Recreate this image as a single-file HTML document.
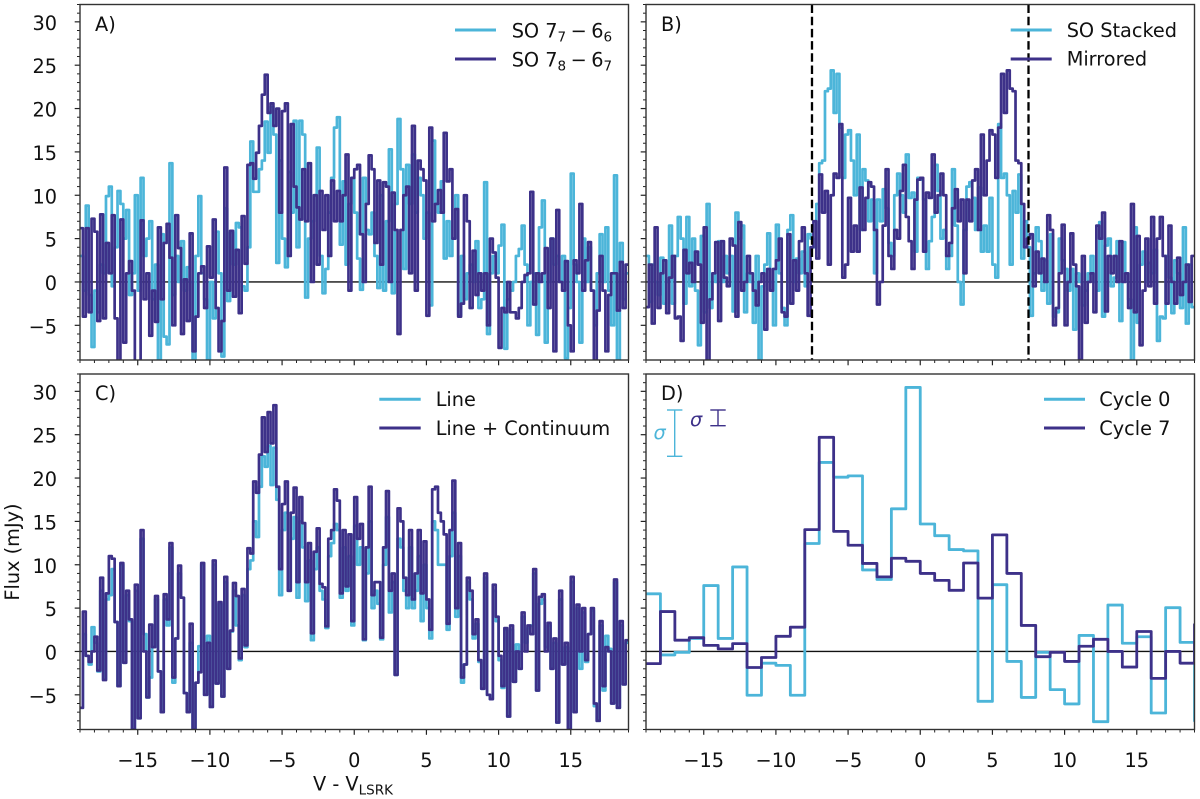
<!DOCTYPE html>
<html lang="en">
<head>
<meta charset="utf-8">
<title>SO line spectra</title>
<style>
html,body{margin:0;padding:0;background:#fff;}
svg{display:block;}
text{font-family:"DejaVu Sans","Liberation Sans",sans-serif;font-size:19.3px;fill:#111;}
</style>
</head>
<body>
<svg id="fig" xmlns="http://www.w3.org/2000/svg" width="1200" height="799" viewBox="0 0 1200 799">
<defs>
<clipPath id="clipA"><rect x="80" y="4.5" width="548.5" height="355.5"/></clipPath>
<clipPath id="clipB"><rect x="646" y="4.5" width="548.5" height="355.5"/></clipPath>
<clipPath id="clipC"><rect x="80" y="374" width="548.5" height="355.5"/></clipPath>
<clipPath id="clipD"><rect x="646" y="374" width="548.5" height="355.5"/></clipPath>
</defs>
<g id="layer"></g>

<text x="95" y="31">A)</text>
<text x="661" y="31">B)</text>
<text x="95" y="400">C)</text>
<text x="661" y="400">D)</text>

<g>
<line x1="455" x2="496" y1="30" y2="30" stroke="#4cb5d9" stroke-width="3"/>
<text x="511.7" y="37.5">SO 7<tspan dy="4" font-size="13.5">7</tspan><tspan dy="-4" dx="4.5">−</tspan><tspan dx="4.5">6</tspan><tspan dy="4" font-size="13.5">6</tspan></text>
<line x1="455" x2="496" y1="59" y2="59" stroke="#3d3189" stroke-width="3"/>
<text x="511.7" y="66.5">SO 7<tspan dy="4" font-size="13.5">8</tspan><tspan dy="-4" dx="4.5">−</tspan><tspan dx="4.5">6</tspan><tspan dy="4" font-size="13.5">7</tspan></text>
</g>
<g>
<line x1="1010.7" x2="1051.7" y1="30" y2="30" stroke="#4cb5d9" stroke-width="3"/>
<text x="1066.7" y="37">SO Stacked</text>
<line x1="1010.7" x2="1051.7" y1="59" y2="59" stroke="#3d3189" stroke-width="3"/>
<text x="1066.7" y="65.5">Mirrored</text>
</g>
<g>
<line x1="379.3" x2="420.7" y1="399.3" y2="399.3" stroke="#4cb5d9" stroke-width="3"/>
<text x="435.7" y="406">Line</text>
<line x1="379.3" x2="420.7" y1="428" y2="428" stroke="#3d3189" stroke-width="3"/>
<text x="435.7" y="435">Line + Continuum</text>
</g>
<g>
<line x1="1044" x2="1085" y1="399.3" y2="399.3" stroke="#4cb5d9" stroke-width="3"/>
<text x="1099.3" y="406">Cycle 0</text>
<line x1="1044" x2="1085" y1="428" y2="428" stroke="#3d3189" stroke-width="3"/>
<text x="1099.3" y="435">Cycle 7</text>
</g>
<g stroke="#4cb5d9" stroke-width="1.4">
<line x1="674.7" x2="674.7" y1="410" y2="456.3"/>
<line x1="667" x2="682.4" y1="410" y2="410"/>
<line x1="667" x2="682.4" y1="456.3" y2="456.3"/>
</g>
<g stroke="#3d3189" stroke-width="1.4">
<line x1="718" x2="718" y1="410" y2="425.7"/>
<line x1="710.3" x2="725.7" y1="410" y2="410"/>
<line x1="710.3" x2="725.7" y1="425.7" y2="425.7"/>
</g>
<text x="653.5" y="439" font-style="italic" style="fill:#4cb5d9">σ</text>
<text x="690" y="426" font-style="italic" style="fill:#3d3189">σ</text>

<text x="313" y="790.5">V - V<tspan dy="4" font-size="13.5">LSRK</tspan></text>
<text x="19" y="552" text-anchor="middle" transform="rotate(-90 19 552)">Flux (mJy)</text>
</svg>

<script>
const soLine77 = [
3,-1,8.8,-1.5,-7.5,-1,-3.5,2,1,9.9,
11,-.5,4,10.5,9,5,8.3,-1.5,1,10,
-1,12,3,5,7,-2,2,-9,5.5,-6.3,
-7.2,13.7,-1.5,3,0,4.7,-1,1.7,0,-9,
3,9.9,1,-2,-9,0,-4.2,5.8,1,-8.6,
8.5,-2.2,5.7,2,6.8,6.3,-.5,-1,4,16.2,
10.4,10.4,13,14,18.5,14.9,20.2,17,2.2,14,
5,1.7,12.7,8,18.6,4,18.6,17,-1.8,5,
7,10,15.5,3,-1.3,1.5,8,12,17.8,19,
4.3,11.6,2,9,12,8,2.7,-.9,12,6,
5.5,8,3,-.7,10,-1,7,15.3,-1.3,9,
18.8,13,1.5,13.5,9,14.7,8,12,10,5,
8,-2.7,16.3,9,8,11.6,2.7,7,3,5,
10,-3.8,3,-2,1,2,0,4.7,-3,-2,
11.5,-6,1,3,1,4.2,6.6,-7.7,-2,-1,
0,3,3.8,6.5,2,-5,0,1,-6.1,6.3,
9.4,-7,0,5,2,3,0,3,-8.8,-3,
12.5,2,0,-7,5,0,4,-1,-5,1,
5.5,0,6.3,-1,-5,12.3,-9,4.5,-2,1];

const soLine78 = [
6.2,-4,6.2,-3.5,7.3,5.8,-4.5,7.8,-4.2,4.5,
1,7.7,-4.2,-9.5,7.2,-7,1,2.4,-1,-10,
-10,7.1,-2,1,-6.2,-1,-4.6,6.3,-2,4.5,
6.7,2.8,-5,7.7,3.9,-6,.3,-4.5,5.6,-8,
-4,1,1.8,-3,4.1,.5,7.2,-3,-8,-4.5,
13.2,-1,5.9,-1.7,3.7,-3.6,7.6,2.1,13.5,13.7,
11.9,14.9,18,21.6,23.9,19.5,20.6,18,20,8,
19.7,20.6,3,18.2,11,8.6,7.2,13,7,13.7,
0,10,2,10.5,6,10,3,11.7,7,10.5,
7,10,14.7,-1,12,13,13.5,5.5,0,9,
14.6,13,4.5,11.7,2,11.5,11,0,10.3,6,
-6,6,10,11,1,18,-1,14,13,11.7,
-3.9,17.8,7,9,10.6,8,17.2,11.6,13,5,
8.4,-4,-2.5,10,7,-3,3.6,-1.5,1,-1,
1,-5,5,3.4,.5,-7.6,-3,-3.5,0,-3.5,
-3.5,-4.2,-3,0,.8,1,10.4,-2.6,1,0,
1,3.9,-3,5,-8,8.3,0,-1,2.4,-5,
-8,2.5,1,9,-1,2.5,4.6,-1,-9.2,-3.3,
3,-1,-8,-1.5,1,1,-3.3,2.3,-3,2];

const soStacked = [
3,-2.3,2,0,-1.5,2.8,-2.5,0,6.5,-2.5,
3,7.5,5,-2.5,7.5,-.5,5,-1,-7.3,5.3,
-3.5,9,-3,1,0,4.7,0,3,1,3,
-3.4,8,5,6.5,-3.5,1,0,-4.7,3,-9,
-.5,2,5.6,0,-5,6.6,1,-3,-5,6,
7.7,0,2.7,1,3.5,-.5,5.5,5,4,9,
13.7,14,22,22.3,24.4,19.5,24,17.8,12,17,
17.5,14,10,17,6,13,11.7,7,9.5,1,
9.5,7,10.7,8.5,4.5,3,10,12.5,10,8,
14.7,9.7,10.3,3.5,12,
11.8,9.5,1.5,4.7,7.5,
13.5,10.5,5,6,1.5,3,13,6.5,0,-2.6,
6,11,11.5,9.7,6,10.9,3.5,6.5,3.5,9.7,
2,.5,18.2,12,12.5,10,2,10.5,8,12.4,
2.7,7,4,-3.9,1,6.3,4.7,-1,2.5,-2.5,
5.5,-4,-3.5,5,2.5,1.5,-1,1.5,-5.5,1,
0,-2.7,-1,1,3,0,-1,6.9,-4,4.2,
5,-.5,.5,4.7,-4.5,4.6,1,-2,-9.2,6.3,
-4.7,2,3.5,0,2.2,1,3.7,-6.8,-4,-4.2,
3,.5,-3.6,2.5,1,-3,6.3,-4.8,2,-2.9];

const lineOnly = [
-6.5,2,-.5,-1.5,2.8,1,-2.3,7,-3.2,6,
6.5,9.5,3.4,-4,10,-1.3,6.5,3.5,-9,7,
-7.7,13,2,-5.3,-3,.5,6,-2.3,-7,6,
3,12,-3.6,1.5,9,6.2,-4.8,-7,1,-9,
-3.6,.6,10,-5,1.8,-6.4,10,-3.7,5.5,-5.2,
8,-2,2.3,7,3,-1,6.5,.5,9.5,10.5,
15,13.2,19,22.5,21.3,23.7,19.2,23.5,17.5,6.5,
14,16,7,13,15.5,6.2,15,12,5.8,10.5,
1.3,9.5,12,7,6,2.7,11,12.5,14.7,14,
6.2,12,7,11,3,14.5,10,12,1.3,9,
15,5,7,5.5,1.4,10,15.5,4.5,8,-2.7,
13,12,7,5,12,5,7,11,3.5,10,
5,1.5,15,14,10,10,10,2.5,11,16,
4,11,-3.6,-1.5,8,6,1.5,3.2,-1.2,-4.3,
8.5,-5,-5.5,7,3.5,-1,-4.2,2.5,-7.5,2.5,
-3.5,.8,-2,4,1,2.7,3,9,-4.5,5.5,
6,.5,3,-2,1,-8.2,6,-1.5,.5,-9,
8,-7,5,-2,4.5,-1.2,2,4.7,-6.3,-8,
3,-4.5,1.8,.3,-6,8,-6.5,3,-3.8,1];

const lineContinuum = [
-6.5,4.6,-.5,-1.2,0,1.7,-2.2,8.5,-3.3,6.7,
11,10.7,3.4,-4,10.2,-1.3,7,3.7,-9,7.7,
-7.7,14,0,-5.3,3.1,.5,6.4,-2.3,-7,6.6,
3.7,12.5,-3,1.5,9.9,6.2,-4.8,-7,3.2,-9,
-3.6,-2.4,10.2,-5,1,-6.4,10.5,-3.7,5.7,-5.2,
8.6,-2,2.4,7.9,6.4,-.8,7.2,.7,11.9,11.3,
19.6,18.3,22.7,27,23,27.6,24,28.4,19,9.5,
17,19.6,7,16,18.9,8,17.8,14.8,8,12.5,
2.1,11.5,14.2,7.8,7.4,2.9,13,14,18.7,17.4,
6.7,14,7.5,13.5,3.5,17.8,13,14.7,1.4,12,
19,6.5,8,8,1.6,12,18.5,7,9,-2.7,
16.5,15,8.5,6.5,14,6,9,14,6.7,12.7,
6,2.5,18.7,19,16,15,13.5,3.2,14,19.7,
5,12.5,-3,-1.5,8.5,7,2,3.7,-1,-4.3,
9,-5,-5.5,7.7,4,-.5,-4,2.7,-7.5,3,
-3.5,0,-2,4.5,0,3,2,9.5,-4.5,6.3,
6.6,0,3.3,-2,1.5,-8.2,7,-1.5,1,-9,
8.6,-7,5.4,0,5,-1,2,5,-6,-8,
3.5,-4,.5,0,-6,8.3,-6.5,3.5,-3.8,1.3];

const cycle0 = [6.65,-.4,-.1,1.5,7.6,1.5,9.75,-5.05,-1.35,-1.6,-5.05,12.45,21.8,20.1,20.25,9.4,8.3,16.45,30.45,
14.7,13.35,11.75,11.6,-5.75,7.7,-1.15,-5.3,-.1,-4.4,-6.05,1.85,-8.1,5.35,.95,1.7,-7.1,5.05,1.05,-8];
const cycle7 = [-1.4,4.6,1.3,1.6,.7,.3,.9,-1.85,-.7,1.75,2.8,14.05,24.7,13.85,12.25,10.15,8.6,10.75,10.4,
9,8.2,7.05,10.2,6.15,13.45,9,3,-.6,-.1,-1.15,.6,1.4,0,-1.8,2.3,-3.1,0,-1.35,3.1];

const xMajorTicks = [-15,-10,-5,0,5,10,15];
const xMinorTicks = [-19,-18,-17,-16,-14,-13,-12,-11,-9,-8,-7,-6,-4,-3,-2,-1,1,2,3,4,6,7,8,9,11,12,13,14,16,17,18,19];
const yMajorTicks = [-5,0,5,10,15,20,25,30];
const yMinorTicks = [-9,-8,-7,-6,-4,-3,-2,-1,1,2,3,4,6,7,8,9,11,12,13,14,16,17,18,19,21,22,23,24,26,27,28,29,31,32];
const boundaryVelocities = [-7.5,7.5];

const xDomain = [-19,19];
const yDomain = [-9,32];
const fineChannelWidth = 0.2;
const coarseChannelWidth = 1;
const LIGHT = '#4cb5d9', DARK = '#3d3189';
const NS = 'http://www.w3.org/2000/svg';
const layer = document.getElementById('layer');

const panels = {
  a:{l:80,r:628.5,t:4.5,b:360,clip:'clipA'},
  b:{l:646,r:1194.5,t:4.5,b:360,clip:'clipB'},
  c:{l:80,r:628.5,t:374,b:729.5,clip:'clipC'},
  d:{l:646,r:1194.5,t:374,b:729.5,clip:'clipD'}
};
function xScale(p,v){return p.l+(v-xDomain[0])/(xDomain[1]-xDomain[0])*(p.r-p.l);}
function yScale(p,v){return p.b-(v-yDomain[0])/(yDomain[1]-yDomain[0])*(p.b-p.t);}

function addLine(parent,x1,y1,x2,y2,stroke,width,name){
  const el=document.createElementNS(NS,'line');
  el.setAttribute('x1',x1);el.setAttribute('y1',y1);el.setAttribute('x2',x2);el.setAttribute('y2',y2);
  el.setAttribute('stroke',stroke);el.setAttribute('stroke-width',width);
  
  
  parent.appendChild(el);
  return el;
}
function addText(parent,x,y,anchor,str,name){
  const el=document.createElementNS(NS,'text');
  el.setAttribute('x',x);el.setAttribute('y',y);el.setAttribute('text-anchor',anchor);
  el.textContent=str;
  
  
  parent.appendChild(el);
}
function addStep(parent,p,values,start,width,color,lw,name){
  let d='';
  values.forEach(function(v,i){
    const x0=xScale(p,start+i*width).toFixed(2), x1=xScale(p,start+(i+1)*width).toFixed(2), y=yScale(p,v).toFixed(2);
    d+=(i===0?'M'+x0+' '+y:'L'+x0+' '+y)+'L'+x1+' '+y;
  });
  const el=document.createElementNS(NS,'path');
  el.setAttribute('d',d);el.setAttribute('fill','none');el.setAttribute('stroke',color);
  el.setAttribute('stroke-width',lw);el.setAttribute('stroke-linejoin','round');
  el.setAttribute('clip-path','url(#'+p.clip+')');
  
  
  parent.appendChild(el);
}
function label(v){return v<0?'\u2212'+Math.abs(v):String(v);}

function drawAxes(key,p,showX,showY){
  const g=document.createElementNS(NS,'g');
  
  
  layer.appendChild(g);
  addLine(g,p.l,yScale(p,0),p.r,yScale(p,0),'#111',1.4,'zero-line-'+key);
  xMajorTicks.forEach(function(v){
    const x=xScale(p,v);
    addLine(g,x,p.b,x,p.b+5.3,'#222',1.2,'x-major-tick-'+key);
    if(showX)addText(g,x,767,'middle',label(v),'x-tick-label');
  });
  xMinorTicks.forEach(function(v){
    const x=xScale(p,v);
    addLine(g,x,p.b,x,p.b+3,'#222',1,'x-minor-tick-'+key);
  });
  yMajorTicks.forEach(function(v){
    const y=yScale(p,v);
    addLine(g,p.l,y,p.l-5.3,y,'#222',1.2,'y-major-tick-'+key);
    if(showY)addText(g,57,y+8,'end',label(v),'y-tick-label');
  });
  yMinorTicks.forEach(function(v){
    const y=yScale(p,v);
    addLine(g,p.l,y,p.l-3,y,'#222',1,'y-minor-tick-'+key);
  });
  return g;
}
function drawFrame(key,p){
  const el=document.createElementNS(NS,'rect');
  el.setAttribute('x',p.l);el.setAttribute('y',p.t);
  el.setAttribute('width',p.r-p.l);el.setAttribute('height',p.b-p.t);
  el.setAttribute('fill','none');el.setAttribute('stroke','#333');el.setAttribute('stroke-width',1.4);
  
  
  layer.appendChild(el);
}

const gA=drawAxes('a',panels.a,false,true);
addStep(gA,panels.a,soLine77,-19,fineChannelWidth,LIGHT,2.7,'series-so-77');
addStep(gA,panels.a,soLine78,-19,fineChannelWidth,DARK,2.7,'series-so-78');
drawFrame('a',panels.a);

const gB=drawAxes('b',panels.b,false,false);
addStep(gB,panels.b,soStacked,-19,fineChannelWidth,LIGHT,2.7,'series-so-stacked');
addStep(gB,panels.b,soStacked.slice().reverse(),-19,fineChannelWidth,DARK,2.7,'series-mirrored');
boundaryVelocities.forEach(function(v){
  const x=xScale(panels.b,v);
  const el=addLine(gB,x,panels.b.t,x,panels.b.b,'#000',2.3,'velocity-boundary-line');
  el.setAttribute('stroke-dasharray','8.5 3.7');
});
drawFrame('b',panels.b);

const gC=drawAxes('c',panels.c,true,true);
addStep(gC,panels.c,lineOnly,-19,fineChannelWidth,LIGHT,2.7,'series-line');
addStep(gC,panels.c,lineContinuum,-19,fineChannelWidth,DARK,2.7,'series-line-continuum');
drawFrame('c',panels.c);

const gD=drawAxes('d',panels.d,true,false);
addStep(gD,panels.d,cycle0,-19,coarseChannelWidth,LIGHT,2.8,'series-cycle-0');
addStep(gD,panels.d,cycle7,-19,coarseChannelWidth,DARK,2.8,'series-cycle-7');
drawFrame('d',panels.d);
</script>
</body>
</html>
